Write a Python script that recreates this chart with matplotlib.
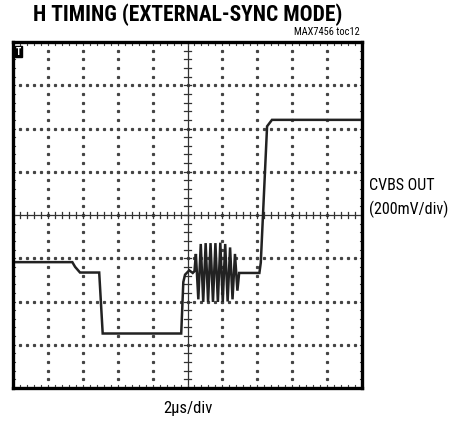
import numpy as np
import matplotlib
matplotlib.use("Agg")
import matplotlib.pyplot as plt
from matplotlib import font_manager

# scope trace, in divisions (x: 0..10, y: 0..8 from bottom)
front_x = [0.00, 1.70, 1.78, 1.92, 2.47, 2.57, 4.82, 4.88, 4.93, 5.05, 5.15, 5.20]
front_y = [2.91, 2.91, 2.80, 2.67, 2.67, 1.26, 1.26, 2.45, 2.62, 2.72, 2.66, 2.70]
burst_x = [5.24, 5.31, 5.38, 5.45, 5.52, 5.59, 5.66, 5.73, 5.80, 5.87,
           5.94, 6.01, 6.08, 6.15, 6.22, 6.29, 6.36, 6.43]
burst_y = [3.10, 2.05, 3.33, 1.99, 3.35, 1.99, 3.35, 1.99, 3.35, 1.99,
           3.36, 1.99, 3.33, 2.00, 3.25, 2.05, 3.10, 2.25]
back_x = [6.48, 7.06, 7.10, 7.28, 7.42, 10.00]
back_y = [2.66, 2.66, 2.90, 6.05, 6.20, 6.20]

title = "H TIMING (EXTERNAL-SYNC MODE)"
tag = "MAX7456 toc12"
ylabel = ["CVBS OUT", "(200mV/div)"]
xlabel = "2\u00b5s/div"

NX, NY = 10, 8

installed = {f.name for f in font_manager.fontManager.ttflist}
narrow = [n for n in ["Roboto Condensed", "Archivo Narrow", "PT Sans Narrow",
                      "Liberation Sans Narrow", "Sofia Sans Condensed",
                      "Saira Condensed"] if n in installed][:1] + ["DejaVu Sans"]

fig = plt.figure(figsize=(4.58, 4.26), dpi=100)
ax = fig.add_axes([13 / 458, 38 / 426, 349 / 458, 346 / 426])
ax.set_xlim(0, NX)
ax.set_ylim(0, NY)
ax.set_xticks([])
ax.set_yticks([])
for s in ax.spines.values():
    s.set_linewidth(2.4)
    s.set_color("black")

dot = dict(color="#444444", marker="s", markersize=1.3, linestyle="none")
# dotted graticule lines
for gx in range(1, NX):
    if gx == NX // 2:
        continue
    yy = np.arange(0, NY + 0.01, 0.2)
    ax.plot(np.full_like(yy, gx), yy, **dot)
for gy in range(1, NY):
    if gy == NY // 2:
        continue
    xx = np.arange(0, NX + 0.01, 0.2)
    ax.plot(xx, np.full_like(xx, gy), **dot)

# center axes with minor ticks
ax.axvline(NX / 2, color="#333333", lw=0.9)
ax.axhline(NY / 2, color="#333333", lw=0.9)
for t in np.arange(0.2, NY, 0.2):
    ax.plot([NX / 2 - 0.1, NX / 2 + 0.1], [t, t], color="#333333", lw=0.9)
for t in np.arange(0.2, NX, 0.2):
    ax.plot([t, t], [NY / 2 - 0.08, NY / 2 + 0.08], color="#333333", lw=0.9)

# edge ticks
for t in np.arange(0.2, NX, 0.2):
    ax.plot([t, t], [NY - 0.06, NY], color="#444444", lw=0.8)
    ax.plot([t, t], [0, 0.06], color="#444444", lw=0.8)
for t in np.arange(0.2, NY, 0.2):
    ax.plot([0, 0.06], [t, t], color="#444444", lw=0.8)
    ax.plot([NX - 0.06, NX], [t, t], color="#444444", lw=0.8)

# trace
trace_x = front_x + burst_x + back_x
trace_y = front_y + burst_y + back_y
ax.plot(trace_x, trace_y, color="#222222", lw=1.8, solid_joinstyle="miter")

# trigger marker
ax.text(0.08, NY - 0.22, "T", fontsize=7, fontweight="bold", color="white",
        ha="left", va="center", family=narrow,
        bbox=dict(boxstyle="square,pad=0.1", fc="black", ec="black"))

fig.text(188 / 458, 1 - 15 / 426, title, ha="center", va="center",
         fontsize=15.5, fontweight="heavy", family=narrow)
fig.text(360 / 458, 1 - 32 / 426, tag, ha="right", va="center",
         fontsize=7.5, family=narrow)
fig.text(369 / 458, 1 - 186 / 426, ylabel[0], ha="left", va="center",
         fontsize=11.5, family=narrow)
fig.text(369 / 458, 1 - 209 / 426, ylabel[1], ha="left", va="center",
         fontsize=11.5, family=narrow)
fig.text(188 / 458, 1 - 408 / 426, xlabel, ha="center", va="center",
         fontsize=12, family=narrow)

fig.savefig("out.png", dpi=100)
